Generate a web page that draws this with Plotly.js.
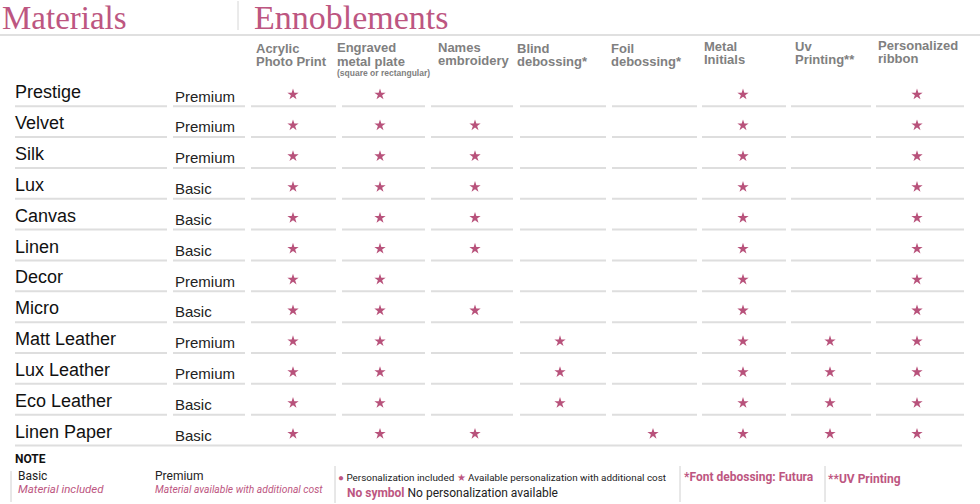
<!DOCTYPE html>
<html>
<head>
<meta charset="utf-8">
<script src="https://cdn.plot.ly/plotly-3.0.1.min.js"></script>
<style>html,body{margin:0;padding:0;background:#fff;}#chart{width:980px;height:504px;}</style>
</head>
<body>
<div id="chart"></div>
<script>
// ---- DATA ----
const materials = ["Prestige","Velvet","Silk","Lux","Canvas","Linen","Decor","Micro","Matt Leather","Lux Leather","Eco Leather","Linen Paper"];
const tiers = ["Premium","Premium","Premium","Basic","Basic","Basic","Premium","Basic","Premium","Premium","Basic","Basic"];
const columnLine1 = ["Acrylic","Engraved","Names","Blind","Foil","Metal","Uv","Personalized"];
const columnLine2 = ["Photo Print","metal plate","embroidery","debossing*","debossing*","Initials","Printing**","ribbon"];
const acrylic   = [1,1,1,1,1,1,1,1,1,1,1,1];
const engraved  = [1,1,1,1,1,1,1,1,1,1,1,1];
const names     = [0,1,1,1,1,1,0,1,0,0,0,1];
const blind     = [0,0,0,0,0,0,0,0,1,1,1,0];
const foil      = [0,0,0,0,0,0,0,0,0,0,0,1];
const metal     = [1,1,1,1,1,1,1,1,1,1,1,1];
const uv        = [0,0,0,0,0,0,0,0,1,1,1,1];
const ribbon    = [1,1,1,1,1,1,1,1,1,1,1,1];
const matrix = [acrylic, engraved, names, blind, foil, metal, uv, ribbon];

// ---- LAYOUT (positions / styles) ----
const W = 980, H = 504;
const PINK = "#bd5681";
const STAR = "#b8527b";
const LINE = "#dedede";
const colCenter = [293,380,475,560,653,743,830,917];
const colSeg = [[251,336],[342,425],[431,513],[520,606],[612,697],[702,786],[791,871],[876,964]];
const headX = [254,335,436,515,609,702,793,876];
const head1Y = [48,47,47,48,48,46.5,46.7,45.3];
const head2Y = [61.5,61,60.5,61,61,59.5,59.5,58];
const row0 = 94.5, rowH = 30.85;
const yTop = -row0/rowH, yBot = (H-row0)/rowH;
const py = px => 1 - px/H;
const px2 = x => x/W;
const SANS = "Liberation Sans, Arial, sans-serif";
const NF = "Roboto, Liberation Sans, sans-serif";

const xs = [], ys = [];
matrix.forEach((col, c) => col.forEach((v, r) => { if (v) { xs.push(colCenter[c]); ys.push(r); } }));

const traces = [{
  type: "scatter", mode: "markers", x: xs, y: ys,
  marker: {symbol: "star", size: 8.5, color: STAR, line: {width: 0}},
  hoverinfo: "skip", showlegend: false
}];

const shapes = [];
const ann = [];
const segs = [[15,167],[173,245]].concat(colSeg);
materials.forEach((m, i) => {
  const yl = i + 0.38;
  if (i === materials.length - 1) {
    shapes.push({type:"line", xref:"x", yref:"y", x0:15, x1:962, y0:yl, y1:yl, line:{color:LINE, width:2}});
  } else {
    segs.forEach(s => shapes.push({type:"line", xref:"x", yref:"y", x0:s[0], x1:s[1], y0:yl, y1:yl, line:{color:LINE, width:2}}));
  }
  ann.push({x:13, y:i - 0.07, xref:"x", yref:"y", text:m, showarrow:false, xanchor:"left", yanchor:"middle",
    font:{family:SANS, size:18, color:"#111"}});
  ann.push({x:173, y:i + 0.05, xref:"x", yref:"y", text:tiers[i], showarrow:false, xanchor:"left", yanchor:"middle",
    font:{family:SANS, size:15, color:"#222"}});
});

// header
shapes.push({type:"line", xref:"paper", yref:"paper", x0:0, x1:1, y0:py(35), y1:py(35), line:{color:"#d6d6d6", width:1.5}});
shapes.push({type:"line", xref:"x", yref:"paper", x0:238, x1:238, y0:py(1), y1:py(30), line:{color:"#d6d6d6", width:1}});
ann.push({x:0, y:py(18), xref:"paper", yref:"paper", text:"Materials", showarrow:false, xanchor:"left", yanchor:"middle",
  font:{family:"Liberation Serif, DejaVu Serif, serif", size:33, color:PINK}});
ann.push({x:px2(252), y:py(18), xref:"paper", yref:"paper", text:"Ennoblements", showarrow:false, xanchor:"left", yanchor:"middle",
  font:{family:"Liberation Serif, DejaVu Serif, serif", size:34, color:PINK}});
columnLine1.forEach((t, c) => {
  ann.push({x:headX[c], y:py(head1Y[c]), xref:"x", yref:"paper", text:"<b>"+t+"</b>", showarrow:false, xanchor:"left", yanchor:"middle",
    font:{family:SANS, size:13, color:"#808080"}});
  ann.push({x:headX[c], y:py(head2Y[c]), xref:"x", yref:"paper", text:"<b>"+columnLine2[c]+"</b>", showarrow:false, xanchor:"left", yanchor:"middle",
    font:{family:SANS, size:13, color:"#808080"}});
});
ann.push({x:335, y:py(73), xref:"x", yref:"paper", text:"<b>(square or rectangular)</b>", showarrow:false, xanchor:"left", yanchor:"middle",
  font:{family:SANS, size:8.5, color:"#808080"}});

// notes
[[11,471,502],[335,466,503],[680,466,502],[825,466,502]].forEach(v =>
  shapes.push({type:"line", xref:"x", yref:"paper", x0:v[0], x1:v[0], y0:py(v[1]), y1:py(v[2]), line:{color:"#d0d0d0", width:1}}));
const note = (x, y, text, size, color) => ann.push({x:x, y:py(y), xref:"x", yref:"paper", text:text, showarrow:false, xanchor:"left", yanchor:"middle",
  font:{family:NF, size:size, color:color}});
note(13, 459, "<b>NOTE</b>", 12, "#111");
note(16, 476, "Basic", 12, "#222");
note(16, 489, "<i>Material included</i>", 11.5, PINK);
note(153, 476, "Premium", 12, "#222");
note(153, 489, "<i>Material available with additional cost</i>", 10.3, PINK);
note(336, 477, "<span style='color:"+PINK+"'>●</span> Personalization included <span style='color:"+PINK+"'>★</span> Available personalization with additional cost", 9.9, "#222");
note(345, 493, "<b><span style='color:"+PINK+"'>No symbol</span></b> No personalization available", 12, "#222");
note(682, 477, "<b>*Font debossing: Futura</b>", 12, PINK);
note(826, 479, "<b>**UV Printing</b>", 12, PINK);

const layout = {
  width: W, height: H, margin: {l:0, r:0, t:0, b:0},
  paper_bgcolor: "#fff", plot_bgcolor: "#fff",
  xaxis: {range:[0, W], visible:false, fixedrange:true},
  yaxis: {range:[yBot, yTop], visible:false, fixedrange:true},
  shapes: shapes, annotations: ann, showlegend: false
};
Plotly.newPlot("chart", traces, layout, {displayModeBar:false, staticPlot:true});
</script>
</body>
</html>
